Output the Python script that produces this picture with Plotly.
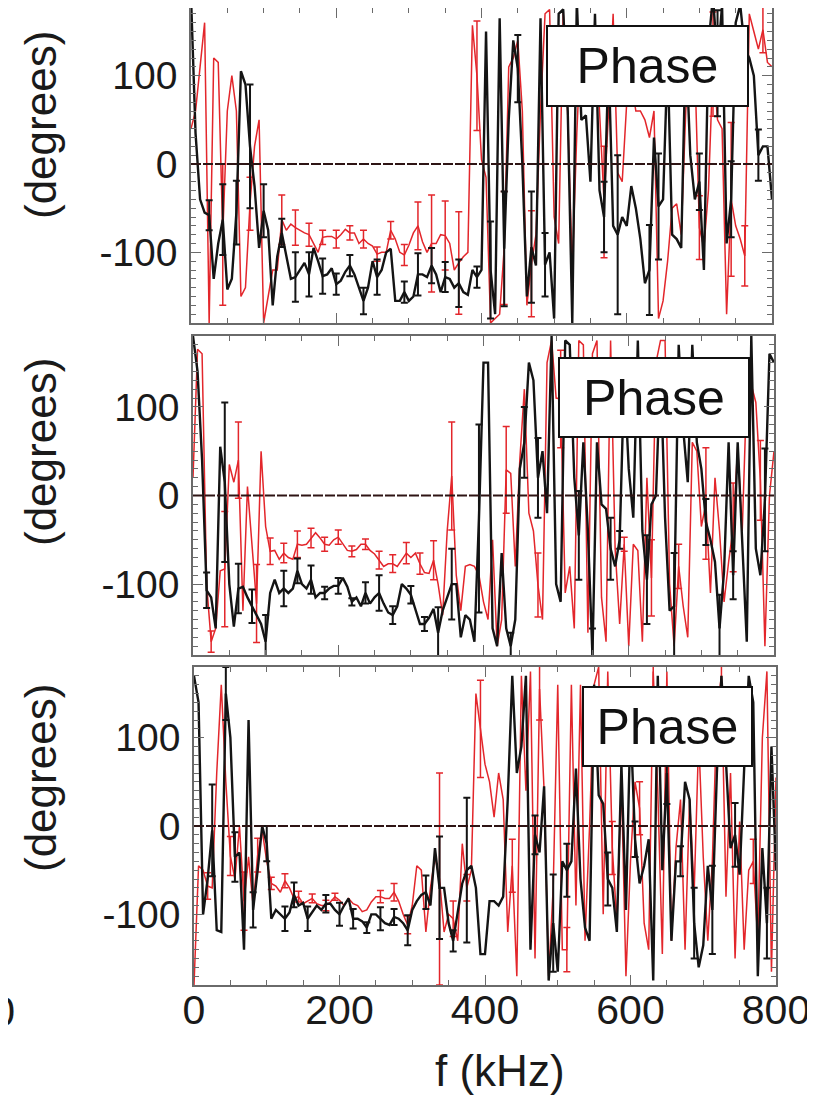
import plotly.graph_objects as go

# ---------------- data ----------------
freq = [6.25 * i for i in range(129)]  # kHz sampling grid, 0..800

p1_black = [190, 35, -40, -55, -58, -130, -90, -63, -142, -130,
            -55, 105, 90, 20, -25, -95, -53, -75, -160, -105,
            -78, -105, -130, -128, -120, -112, -125, -95, -110, -127,
            -125, -118, -136, -132, -122, -115, -125, -140, -155, -140,
            -110, -128, -120, -100, -96, -155, -155, -145, -155, -150,
            -125, -125, -128, -115, -125, -145, -128, -130, -140, -135,
            -145, -148, -120, -128, -120, 150, -120, -170, 165, -96,
            50, 140, 108, 0, -150, -94, -115, 165, -114, -100,
            -175, 170, 175, 60, -180, 185, 50, 55, -20, 170,
            -30, -60, 120, -70, -80, -60, -70, -25, -50, -85,
            -135, -120, 30, -48, -40, 120, -80, -85, -95, 140,
            10, -40, -20, -120, 135, 190, 114, 180, -90, -40,
            160, 180, 130, 120, 100, 10, 20, 20, -40]
p1_red = [40, 60, 110, 160, -180, 120, 115, -80, 60, 100,
          60, -150, -140, -45, 20, 50, -180, -150, -120, -120,
          -63, -75, -68, -72, -75, -78, -80, -90, -100, -83,
          -82, -82, -85, -80, -74, -78, -78, -90, -85, -90,
          -93, -102, -100, -100, -75, -85, -100, -103, -92, -78,
          -70, -88, -100, -90, -90, -80, -81, -90, -120, -112,
          -105, -100, 157, 100, 5, -15, -180, -175, -170, -95,
          110, 120, 140, 60, -160, -113, -80, 60, 170, 175,
          -60, -90, 175, 55, -120, 35, 150, 100, 130, 160,
          60, -43, 60, 170, -10, -20, 70, 95, 60, 60,
          50, 30, 60, -175, -155, -110, -50, -45, -80, 60,
          120, 110, -72, -95, -30, 113, 50, 40, -170, -40,
          -70, -85, -104, 170, 150, 130, 152, 115, 110]
p2_black = [180, 140, 40, -107, -115, -150, 55, 15, -100, -148,
            -105, -103, -115, -125, -135, -145, -165, -110, -95, -110,
            -105, -110, -105, -85, -100, -105, -95, -115, -110, -110,
            -105, -102, -102, -93, -103, -120, -115, -125, -110, -122,
            -115, -110, -122, -132, -135, -125, -100, -105, -112, -130,
            -145, -145, -138, -128, -155, -130, -115, -100, -100, -160,
            -135, -140, -165, -26, 150, 150, -150, -170, -65, -150,
            -170, -140, 30, 60, 150, 130, 20, 50, -20, 180,
            -100, -120, 175, 170, 20, -45, 60, -40, -180, 60,
            -10, -15, -60, -80, -50, 135, 30, -25, 175, -40,
            -95, -10, 0, 145, -25, -130, -125, 170, 75, 15,
            170, 60, 30, -30, -50, -75, -150, -85, 60, -90,
            60, -50, -165, 180, -60, -90, -5, 160, 150]
p2_red = [20, 165, 160, -100, -165, -150, -85, -83, 35, 15,
          40, -130, 10, -60, -122, 50, -35, -63, -62, -72,
          -65, -70, -72, -55, -56, -55, -48, -42, -48, -55,
          -56, -50, -47, -55, -62, -63, -61, -55, -55, -62,
          -66, -73, -80, -77, -77, -80, -73, -65, -70, -65,
          -77, -87, -88, -73, -100, -135, -40, 22, -90, -130,
          -80, -78, -80, -90, -120, -140, -50, -170, -140, 29,
          25, -80, 40, 120, -20, -40, -101, -140, 150, 175,
          110, 109, -110, -80, -150, 175, 170, -155, 160, 175,
          -115, -165, 175, -60, -145, -55, -170, -55, -62, -165,
          20, -93, 150, 175, 175, -100, -170, -80, -125, -160,
          60, 50, -35, -9, -110, 20, -40, -120, -75, -36,
          55, -40, 120, 125, 105, 17, -170, 0, 50]
p3_black = [170, 140, -100, -60, -5, -118, -120, 150, 100, -35,
            -30, -140, 120, -95, -50, 0, -20, -105, -95, -100,
            -105, -98, -78, -90, -87, -105, -97, -90, -95, -88,
            -88, -95, -100, -90, -82, -105, -105, -108, -115, -100,
            -100, -105, -110, -112, -103, -105, -110, -118, -95, -85,
            -78, -75, -90, -25, -70, -70, -110, -130, -95, -65,
            -50, -45, -70, -145, -145, -85, -85, -90, -80, 30,
            170, 60, 90, 170, -140, -10, -30, 45, -175, -110,
            -165, -40, -50, -40, 65, -60, -115, -130, 160, 35,
            25, -60, -70, -120, 70, -95, 120, -15, -65, -45,
            -15, -175, 170, -50, 60, -130, -40, -40, 50, 30,
            -110, -160, -135, -45, -95, 60, 170, 70, -25, -10,
            -55, 65, 170, 140, -170, -25, -110, 90, -50]
p3_red = [-180, -45, -50, -68, -70, 60, 160, 50, -34, -60,
          0, -85, -35, -90, -33, -5, -40, -65, -68, -75,
          -62, -70, -82, -80, -88, -85, -82, -88, -90, -90,
          -86, -80, -84, -90, -82, -88, -90, -97, -95, -86,
          -80, -80, -82, -82, -75, -85, -100, -112, -90, -45,
          -50, -120, -70, -35, -60, -120, -100, -105, -130, -20,
          -70, -50, 150, 110, 70, 50, 10, 60, 30, -120,
          -45, -170, 170, 40, 175, -150, 155, 40, -170, -70,
          160, -140, -140, 160, -90, 160, -130, 0, 160, 180,
          -100, 175, -25, -110, 50, -170, -40, 50, 20, -110,
          -140, 175, 40, -145, 175, -130, -25, 30, -140, 30,
          -75, 100, -35, -130, -40, 130, 170, -80, 60, -150,
          5, -140, -50, -40, -130, 100, 175, -165, 55]

# error bars: (sample index, half-width in degrees)
p1_black_err = [(4, 17), (7, 40), (10, 36), (13, 70), (16, 30), (20, 16), (23, 28), (26, 25),
                (29, 20), (32, 12), (35, 12), (38, 15), (41, 20), (47, 12), (50, 24), (53, 20),
                (56, 17), (59, 27), (63, 12), (66, 55), (69, 65), (72, 38), (75, 63), (78, 36),
                (91, 40), (94, 90), (101, 51), (103, 60), (112, 32), (116, 60), (119, 43), (125, 29)]
p1_red_err = [(7, 80), (13, 30), (20, 28), (23, 20), (26, 13), (29, 8), (32, 10), (35, 8),
              (38, 10), (41, 8), (44, 10), (47, 12), (50, 27), (53, 55), (56, 39), (59, 58),
              (63, 62), (69, 64), (75, 60), (91, 63), (112, 36), (115, 59), (119, 87), (122, 34),
              (126, 26)]
p2_black_err = [(3, 20), (7, 90), (10, 28), (13, 19), (16, 30), (20, 20), (23, 14), (26, 16),
                (29, 7), (32, 9), (35, 4), (38, 12), (41, 20), (44, 10), (48, 10), (51, 8),
                (54, 29), (57, 40), (63, 106), (70, 15), (73, 40), (76, 45), (85, 50), (88, 30),
                (92, 35), (94, 10), (100, 50), (106, 60), (113, 26), (116, 38), (119, 27), (126, 58)]
p2_red_err = [(4, 12), (7, 65), (10, 43), (14, 44), (17, 15), (20, 11), (23, 15), (26, 11),
              (29, 8), (32, 8), (35, 6), (38, 6), (41, 10), (44, 10), (47, 12), (50, 12),
              (53, 22), (57, 61), (69, 49), (76, 36), (81, 55), (95, 8), (101, 43), (107, 25),
              (113, 63), (119, 50), (125, 45)]
p3_black_err = [(4, 52), (7, 30), (9, 28), (13, 20), (16, 20), (20, 14), (22, 14), (25, 14),
                (29, 10), (32, 13), (35, 11), (38, 6), (41, 13), (44, 9), (47, 17), (51, 19),
                (54, 58), (57, 12), (60, 82), (75, 22), (79, 55), (82, 30), (91, 30), (97, 20),
                (104, 35), (107, 17), (110, 40), (114, 50), (119, 36), (126, 40)]
p3_red_err = [(3, 15), (8, 22), (11, 33), (14, 19), (17, 7), (20, 8), (23, 6), (26, 5),
              (29, 6), (31, 4), (41, 7), (44, 10), (47, 10), (54, 120), (57, 20), (60, 15),
              (63, 55), (70, 30), (76, 35), (82, 25), (92, 30), (98, 30), (101, 25), (116, 30),
              (123, 25)]

x_ticks = [0, 200, 400, 600, 800]
y_ticks = [-100, 0, 100]
y_ticktext = ["-100", "0", "100"]
panel_label = "Phase"
y_title = "(degrees)"
x_title = "f (kHz)"

# ---------------- styling ----------------
FONT = "Liberation Sans, Arial, Helvetica, sans-serif"
RED = "#e3262b"
BLACK = "#141414"
AXC = "#6a6a6a"
W, H = 815, 1095
OX, OY = 8, 8  # page body margin: the figure div starts 8px in from the window edge


def fx(px):
    return min(1.0, max(0.0, (px - OX) / W))


def fy(py):
    return min(1.0, max(0.0, 1 - (py - OY) / H))


panels = [
    dict(black=p1_black, red=p1_red, berr=p1_black_err, rerr=p1_red_err,
         xdom=(191, 772), ydom=(5, 323), box=(546, 749, 25, 107), ytitle=125),
    dict(black=p2_black, red=p2_red, berr=p2_black_err, rerr=p2_red_err,
         xdom=(193, 774), ydom=(336, 655), box=(558, 750, 357, 438), ytitle=452),
    dict(black=p3_black, red=p3_red, berr=p3_black_err, rerr=p3_red_err,
         xdom=(194, 776), ydom=(667, 985), box=(582, 753, 686, 767), ytitle=778),
]

fig = go.Figure()
layout = dict(width=W, height=H, autosize=False,
              margin=dict(l=0, r=0, t=0, b=0, autoexpand=False),
              paper_bgcolor="white", plot_bgcolor="white",
              showlegend=False, font=dict(family=FONT, color="#1a1a1a"))
shapes, annotations = [], []


def err_trace(y, pairs, color, thick, xa, ya):
    idx = [p[0] for p in pairs]
    return go.Scatter(x=[freq[i] for i in idx], y=[y[i] for i in idx], mode="markers",
                      marker=dict(size=1, opacity=0),
                      error_y=dict(type="data", array=[p[1] for p in pairs], visible=True,
                                   color=color, thickness=thick, width=3.5),
                      xaxis=xa, yaxis=ya, hoverinfo="skip", showlegend=False)


for k, p in enumerate(panels):
    n = "" if k == 0 else str(k + 1)
    xa, ya = "x" + n, "y" + n
    # red first, black on top
    fig.add_trace(go.Scatter(x=freq, y=p["red"], mode="lines",
                             line=dict(color=RED, width=1.5), xaxis=xa, yaxis=ya))
    fig.add_trace(err_trace(p["red"], p["rerr"], RED, 1.5, xa, ya))
    fig.add_trace(go.Scatter(x=freq, y=p["black"], mode="lines",
                             line=dict(color=BLACK, width=2.4), xaxis=xa, yaxis=ya))
    fig.add_trace(err_trace(p["black"], p["berr"], BLACK, 2.0, xa, ya))

    x0, x1 = p["xdom"]
    yt, yb = p["ydom"]
    # if the panel top lies in the page margin, clip it there and trim the range to keep the scale
    deg_per_px = 360.0 / (yb - yt)
    yt_vis = max(yt, OY)
    ytop = 180 - (yt_vis - yt) * deg_per_px
    last = (k == 2)
    layout["xaxis" + n] = dict(
        domain=[fx(x0), fx(x1)], anchor=ya, range=[0, 800],
        tickmode="array", tickvals=x_ticks, showticklabels=last,
        tickfont=dict(size=41, family=FONT, color="#1a1a1a"),
        ticks="inside", ticklen=10, tickwidth=1.2, tickcolor=AXC,
        minor=dict(tickmode="linear", tick0=0, dtick=50, ticks="inside",
                   ticklen=5, tickwidth=1, tickcolor=AXC),
        showline=True, linecolor=AXC, linewidth=1.5, mirror="ticks",
        showgrid=False, zeroline=False, ticklabelstandoff=-12)
    layout["yaxis" + n] = dict(
        domain=[fy(yb), fy(yt_vis)], anchor=xa, range=[-180, ytop],
        tickmode="array", tickvals=y_ticks, ticktext=y_ticktext,
        tickfont=dict(size=39, family=FONT, color="#1a1a1a"),
        ticks="inside", ticklen=10, tickwidth=1.2, tickcolor=AXC,
        minor=dict(tickmode="linear", tick0=0, dtick=10, ticks="inside",
                   ticklen=5, tickwidth=1, tickcolor=AXC),
        showline=True, linecolor=AXC, linewidth=1.5, mirror="ticks",
        showgrid=False, zeroline=False, ticklabelstandoff=4)

    shapes.append(dict(type="line", xref=xa, yref=ya, x0=0, x1=800, y0=0, y1=0,
                       line=dict(color="#2e1414", width=2.2, dash="10px,2px"), layer="above"))

    bx0, bx1, by0, by1 = p["box"]
    annotations.append(dict(text=panel_label, xref="paper", yref="paper",
                            x=fx((bx0 + bx1) / 2), y=fy((by0 + by1) / 2),
                            xanchor="center", yanchor="middle", showarrow=False,
                            width=bx1 - bx0 - 6, height=by1 - by0 - 6,
                            bgcolor="white", bordercolor="#111", borderwidth=2, borderpad=1,
                            font=dict(size=50, family=FONT, color="#111")))
    annotations.append(dict(text=y_title, xref="paper", yref="paper",
                            x=fx(40), y=fy(p["ytitle"]), textangle=-90,
                            xanchor="center", yanchor="middle", showarrow=False,
                            font=dict(size=44, family=FONT, color="#1a1a1a")))

annotations.append(dict(text=x_title, xref="paper", yref="paper", x=fx(500), y=fy(1070),
                        xanchor="center", yanchor="middle", showarrow=False,
                        font=dict(size=44, family=FONT, color="#1a1a1a")))
# clipped tick label of the neighbouring figure at the far left
annotations.append(dict(text="800", xref="paper", yref="paper", x=fx(17), y=fy(1011),
                        xanchor="right", yanchor="middle", showarrow=False,
                        font=dict(size=42, family=FONT, color="#1a1a1a")))

layout["shapes"] = shapes
layout["annotations"] = annotations
fig.update_layout(**layout)
fig.write_html("out.html")
